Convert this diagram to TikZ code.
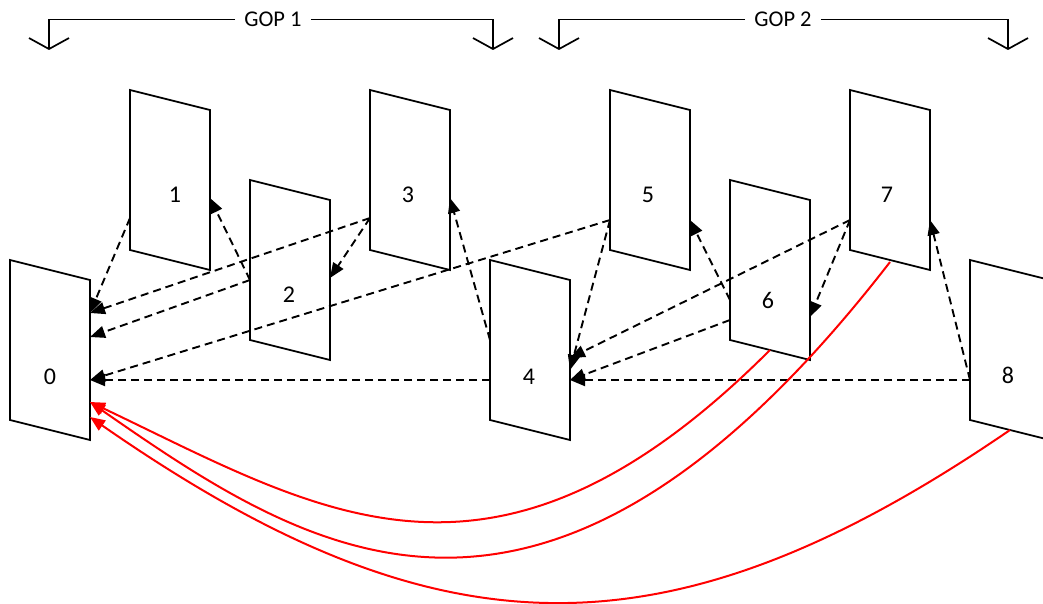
\documentclass[tikz,border=0pt]{standalone}
\usepackage{fontspec}
\setmainfont{Carlito}
\usetikzlibrary{arrows.meta,calc}

\tikzset{
  frame/.style={draw=black, line width=1.8pt, line join=miter},
  lbl/.style={font=\fontsize{24}{28}\selectfont, inner sep=0pt},
  refline/.style={draw=black, line width=1.9pt, dash pattern=on 8pt off 5pt, -{Triangle[length=15pt,width=12pt]}},
  redline/.style={draw=red, line width=2pt, -{Triangle[length=15pt,width=12pt]}},
  bracket/.style={draw=black, line width=1.7pt, -{Straight Barb[length=11pt,width=40pt]}},
  goptxt/.style={font=\fontsize{22.5}{26}\selectfont, fill=white, inner xsep=9pt, inner ysep=2pt},
}

\begin{document}
\begin{tikzpicture}[x=1pt,y=-1pt]
\clip (0,0) rectangle (1043,604);
% frames
\foreach \i/\x/\y/\lx/\ly in {0/10/260/50/377, 1/130/90/175/195, 2/250/180/289/295, 3/370/90/408/195, 4/490/260/529/377, 5/610/90/648/195, 6/730/180/768/300, 7/850/90/887/195, 8/970/260/1008/375} {
  \draw[frame] (\x,\y) -- ++(80,20) -- ++(0,160) -- ++(-80,-20) -- cycle;
  \node[lbl] (f\i) at (\lx,\ly) {\i};
}
% points on the frame edges
\foreach \n/\px/\py in {p1l/130/218, p2l/250/280, p3l/370/218, p4la/490/340, p4lb/490/380, p5l/610/220, p6la/730/300, p6lb/730/320, p7l/850/220, p8l/970/380, p0ra/90/313, p0rb/90/337, p0rc/90/380, p0rd/90/402, p0re/90/417, p1r/210/198, p2r/330/278, p3r/450/198, p4ra/570/358, p4rb/570/370, p4rc/570/380, p5r/690/220, p6r/810/317, p7r/930/220, p6b/770/350, p7b/890/262, p8b/1010/430}
  \coordinate (\n) at (\px,\py);
% dashed references
\foreach \a/\b in {p1l/p0ra, p3l/p0ra, p2l/p0rb, p2l/p1r, p3l/p2r, p4la/p3r, p5l/p0rc, p4lb/p0rc, p5l/p4rb, p6la/p5r, p7l/p4ra, p6lb/p4rc, p7l/p6r, p8l/p4rc, p8l/p7r}
  \draw[refline] (\a) -- (\b);
% long references back to 0
\draw[redline] (p6b) .. controls +(-276,276) and +(231,110) .. (p0rd);
\draw[redline] (p7b) .. controls +(-348,450) and +(215,149) .. (p0rd);
\draw[redline] (p8b) .. controls +(-346,237) and +(344,239) .. (p0re);
% GOP brackets
\node[goptxt] (gop1) at (273,19.5) {GOP 1};
\node[goptxt] (gop2) at (783,19.5) {GOP 2};
\coordinate (g1l) at (49,50);
\coordinate (g1r) at (493,50);
\coordinate (g2l) at (559,50);
\coordinate (g2r) at (1008,50);
\draw[bracket] (gop1) -| (g1l);
\draw[bracket] (gop1) -| (g1r);
\draw[bracket] (gop2) -| (g2l);
\draw[bracket] (gop2) -| (g2r);
\end{tikzpicture}
\end{document}
